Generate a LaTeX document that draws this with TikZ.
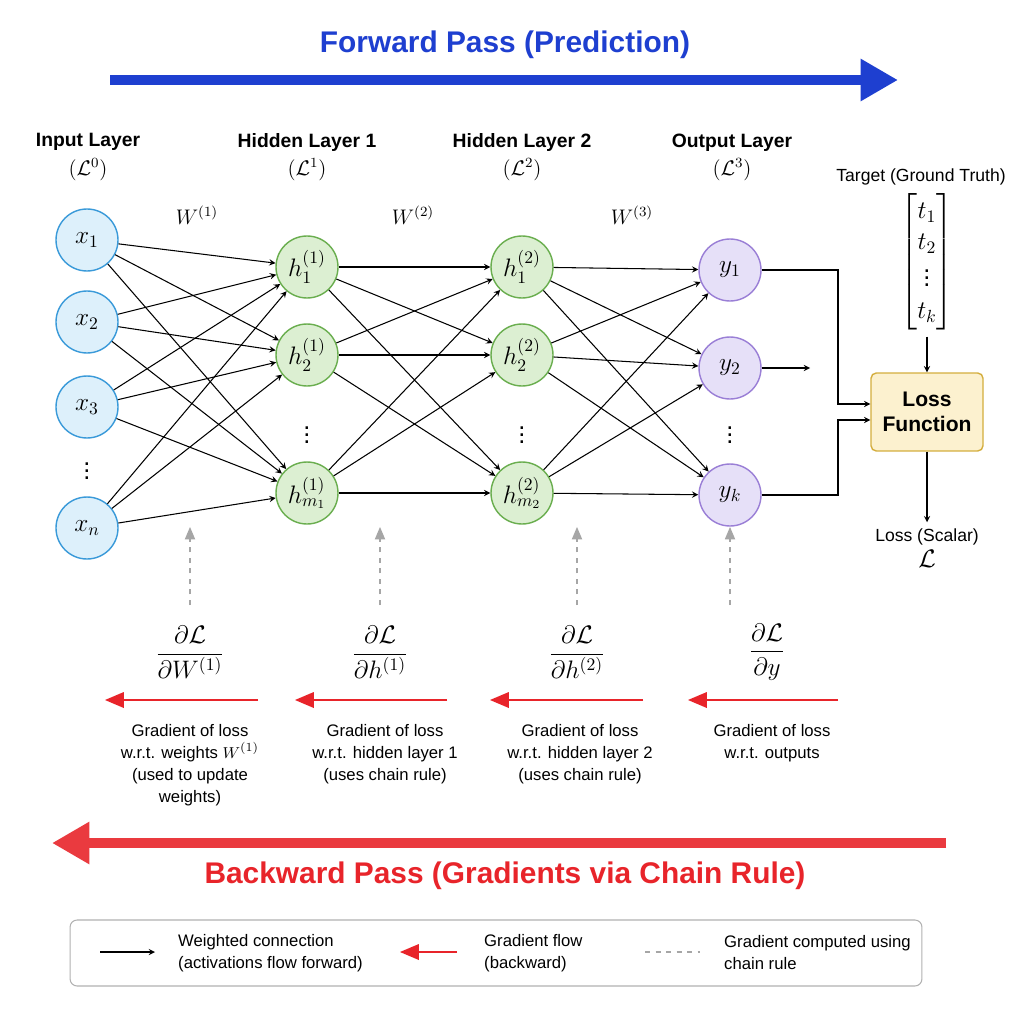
\documentclass[tikz,border=0pt]{standalone}
\usepackage{amsmath}
\usepackage{fontspec}
\setmainfont{Liberation Sans}
\usepackage{tikz}
\usetikzlibrary{shapes.geometric, arrows, arrows.meta}
\definecolor{inblue}{HTML}{DDF0FB}
\definecolor{inedge}{HTML}{3A9AD9}
\definecolor{hidgreen}{HTML}{DCEFD2}
\definecolor{hidedge}{HTML}{6AAE4F}
\definecolor{outpurp}{HTML}{E6E0F8}
\definecolor{outedge}{HTML}{9A7FD6}
\definecolor{lossfill}{HTML}{FCF1CF}
\definecolor{lossedge}{HTML}{D4AE3E}
\definecolor{fwdblue}{HTML}{1E3FD0}
\definecolor{bwdred}{HTML}{E8242A}
\tikzstyle{inputnode} = [circle, minimum size=1.24cm, inner sep=0pt, fill=inblue, draw=inedge, thick, font=\Large]
\tikzstyle{hiddennode} = [circle, minimum size=1.24cm, inner sep=0pt, fill=hidgreen, draw=hidedge, thick, font=\Large]
\tikzstyle{outputnode} = [circle, minimum size=1.24cm, inner sep=0pt, fill=outpurp, draw=outedge, thick, font=\Large]
\tikzstyle{dotsnode} = [inner sep=0pt, font=\Large]
\tikzstyle{layerlabel} = [font=\fontsize{11}{14}\selectfont\bfseries, align=center]
\tikzstyle{caption} = [font=\fontsize{9.5}{12.5}\selectfont, align=center]
\tikzstyle{arrow} = [semithick,->,>=stealth]
\tikzstyle{gradarrow} = [bwdred, line width=1.5pt,->,>=triangle 45]
\tikzstyle{dasharrow} = [gray!70, semithick, dashed,->,>=triangle 45]

\begin{document}
\begin{tikzpicture}[x=0.02cm, y=-0.02cm]
            \useasboundingbox (0,0) rectangle (1024,1024);
            \fill[white] (0,0) rectangle (1024,1024);

            % forward pass
            \node (fwdtitle) at (505,45) [text=fwdblue, font=\fontsize{17}{20}\selectfont\bfseries] {Forward Pass (Prediction)};
            \coordinate (fwdstart) at (110,80);
            \coordinate (fwdend) at (898,80);
            \draw [fwdblue, line width=6pt, -{Triangle[length=0.75cm, width=0.8cm]}] (fwdstart) -- (fwdend);

            % layer labels
            \node (lab0) at (88,157) [layerlabel] {Input Layer\\[2pt]\normalfont\large$(\mathcal{L}^0)$};
            \node (lab1) at (307,157) [layerlabel] {Hidden Layer 1\\[2pt]\normalfont\large$(\mathcal{L}^1)$};
            \node (lab2) at (522,157) [layerlabel] {Hidden Layer 2\\[2pt]\normalfont\large$(\mathcal{L}^2)$};
            \node (lab3) at (732,157) [layerlabel] {Output Layer\\[2pt]\normalfont\large$(\mathcal{L}^3)$};
            \node (w1) at (197,215) [font=\large] {$W^{(1)}$};
            \node (w2) at (413,215) [font=\large] {$W^{(2)}$};
            \node (w3) at (632,215) [font=\large] {$W^{(3)}$};

            % neurons
            \node (x1) at (87,240) [inputnode] {$x_1$};
            \node (x2) at (87,322) [inputnode] {$x_2$};
            \node (x3) at (87,407) [inputnode] {$x_3$};
            \node (x4) at (87,528) [inputnode] {$x_n$};
            \node (xdots) at (87,466) [dotsnode] {$\vdots$};
            \node (ha1) at (307,267) [hiddennode] {$h^{(1)}_1$};
            \node (ha2) at (307,355) [hiddennode] {$h^{(1)}_2$};
            \node (ha3) at (307,493) [hiddennode] {$h^{(1)}_{m_1}$};
            \node (hadots) at (307,430) [dotsnode] {$\vdots$};
            \node (hb1) at (522,267) [hiddennode] {$h^{(2)}_1$};
            \node (hb2) at (522,355) [hiddennode] {$h^{(2)}_2$};
            \node (hb3) at (522,493) [hiddennode] {$h^{(2)}_{m_2}$};
            \node (hbdots) at (522,430) [dotsnode] {$\vdots$};
            \node (y1) at (730,270) [outputnode] {$y_1$};
            \node (y2) at (730,368) [outputnode] {$y_2$};
            \node (y3) at (730,495) [outputnode] {$y_k$};
            \node (ydots) at (730,430) [dotsnode] {$\vdots$};

            \foreach \i in {1,...,4}
                \foreach \j in {1,2,3}
                    \draw [arrow] (x\i) -- (ha\j);
            \foreach \i in {1,2,3}
                \foreach \j in {1,2,3} {
                    \draw [arrow] (ha\i) -- (hb\j);
                    \draw [arrow] (hb\i) -- (y\j);
                }

            % target and loss
            \node (target) at (921,177) [font=\fontsize{10}{12}\selectfont] {Target (Ground Truth)};
            \node (tvec) at (927,262) [font=\Large] {$\begin{bmatrix} t_1\\ t_2\\ \vdots\\ t_k\end{bmatrix}$};
            \node (loss) at (927,412) [rectangle, rounded corners=3pt, minimum width=2.24cm, minimum height=1.56cm, fill=lossfill, draw=lossedge, thick, align=center, font=\fontsize{12}{14}\selectfont\bfseries] {Loss\\Function};
            \node (lossout) at (927,548) [align=center, font=\fontsize{10}{12}\selectfont] {Loss (Scalar)\\[3pt]\Large$\mathcal{L}$};
            \coordinate (y2end) at (810,368);
            \coordinate (join1) at (838,270);
            \coordinate (join3) at (838,495);
            \draw [arrow] (tvec) -- (loss);
            \draw [arrow] (loss) -- (lossout);
            \draw [arrow] (y2) -- (y2end);
            \draw [arrow] (y1) -- (join1) -- (join1 |- {(0,404)}) -- (loss.west |- {(0,404)});
            \draw [arrow] (y3) -- (join3) -- (join3 |- {(0,420)}) -- (loss.west |- {(0,420)});

            % gradients
            \node (g1) at (190,652) {\Large$\dfrac{\partial\mathcal{L}}{\partial W^{(1)}}$};
            \node (g2) at (380,652) {\Large$\dfrac{\partial\mathcal{L}}{\partial h^{(1)}}$};
            \node (g3) at (577,652) {\Large$\dfrac{\partial\mathcal{L}}{\partial h^{(2)}}$};
            \node (g4) at (767,652) {\Large$\dfrac{\partial\mathcal{L}}{\partial y}$};
            \coordinate (d1) at (190,527);
            \coordinate (d2) at (380,527);
            \coordinate (d3) at (577,527);
            \coordinate (d4) at (730,527);
            \draw [dasharrow] (g1.north |- {(0,605)}) -- (d1);
            \draw [dasharrow] (g2.north |- {(0,605)}) -- (d2);
            \draw [dasharrow] (g3.north |- {(0,605)}) -- (d3);
            \draw [dasharrow] (d4 |- {(0,605)}) -- (d4);
            \foreach \a/\b/\c in {258/105/c1, 447/295/c2, 643/490/c3, 838/688/c4} {
                \coordinate (\c s) at (\a,700);
                \coordinate (\c e) at (\b,700);
                \draw [gradarrow] (\c s) -- (\c e);
            }
            \node (cap1) at (190,718) [caption, anchor=north] {Gradient of loss\\w.r.t. weights $W^{(1)}$\\(used to update\\weights)};
            \node (cap2) at (385,718) [caption, anchor=north] {Gradient of loss\\w.r.t. hidden layer 1\\(uses chain rule)};
            \node (cap3) at (580,718) [caption, anchor=north] {Gradient of loss\\w.r.t. hidden layer 2\\(uses chain rule)};
            \node (cap4) at (772,718) [caption, anchor=north] {Gradient of loss\\w.r.t. outputs};

            % backward pass
            \coordinate (bwdstart) at (946,843);
            \coordinate (bwdend) at (52,843);
            \draw [bwdred!90, line width=6pt, -{Triangle[length=0.75cm, width=0.8cm]}] (bwdstart) -- (bwdend);
            \node (bwdtitle) at (505,876) [text=bwdred, font=\fontsize{17}{20}\selectfont\bfseries] {Backward Pass (Gradients via Chain Rule)};

            % legend
            \node (legend) at (496,953) [rectangle, rounded corners=4pt, minimum width=17.04cm, minimum height=1.32cm, draw=gray!60, semithick] {};
            \coordinate (l1a) at (100,952);
            \coordinate (l1b) at (155,952);
            \coordinate (l2a) at (457,952);
            \coordinate (l2b) at (400,952);
            \coordinate (l3a) at (645,952);
            \coordinate (l3b) at (700,952);
            \draw [arrow] (l1a) -- (l1b);
            \draw [gradarrow] (l2a) -- (l2b);
            \draw [gray!70, semithick, dashed] (l3a) -- (l3b);
            \node (leg1) at (172,953) [caption, anchor=west, align=left] {Weighted connection\\(activations flow forward)};
            \node (leg2) at (478,953) [caption, anchor=west, align=left] {Gradient flow\\(backward)};
            \node (leg3) at (718,953) [caption, anchor=west, align=left] {Gradient computed using\\chain rule};
        \end{tikzpicture}
\end{document}
